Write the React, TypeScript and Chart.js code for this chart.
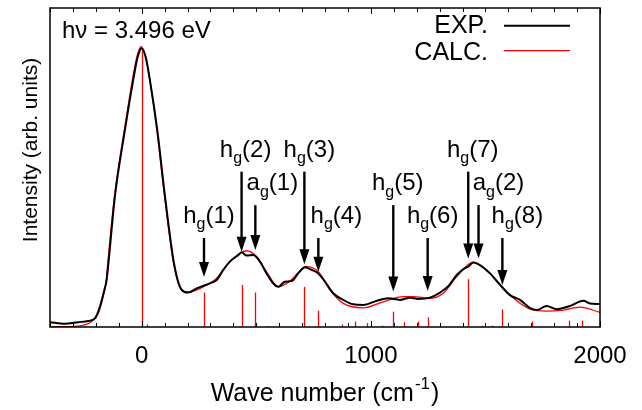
import { useEffect, useRef } from 'react';
import { Chart, registerables } from 'chart.js';

Chart.register(...registerables);

// Measured spectrum (black)
const expWave = [-400, -335, -277, -233, -204, -182, -163, -153, -145, -117, -73, -37, -18, 0, 18, 36, 68, 102, 141, 175, 203, 240, 269, 298, 327, 356, 385, 422, 436, 458, 487, 516, 545, 574, 596, 625, 655, 683, 713, 742, 771, 800, 836, 880, 923, 967, 1025, 1076, 1127, 1171, 1207, 1258, 1302, 1338, 1375, 1403, 1425, 1447, 1476, 1520, 1564, 1607, 1651, 1695, 1724, 1767, 1811, 1869, 1927, 1956, 2000];
const expIntensity = [1.5, 1.0, 1.5, 1.9, 2.7, 6.4, 11.6, 14.7, 20.0, 40.8, 61.8, 77.4, 84.5, 87.4, 84.5, 77.4, 61.8, 40.8, 20.0, 11.6, 10.8, 12.1, 12.9, 13.7, 14.7, 17.9, 20.5, 22.6, 23.4, 22.4, 22.6, 20.5, 16.8, 13.7, 12.6, 14.2, 14.4, 16.8, 18.7, 17.9, 16.8, 14.2, 10.6, 8.5, 7.1, 6.9, 8.2, 9.0, 8.5, 9.2, 8.8, 9.2, 10.8, 12.8, 16.3, 18.1, 18.9, 20.2, 19.4, 16.8, 13.2, 10.0, 8.5, 5.9, 5.3, 6.6, 5.6, 6.6, 8.2, 7.4, 7.2];

// Simulated spectrum (red)
const calcWave = [-400, -277, -218, -189, -168, -156, -148, -119, -75, -39, -20, -3, 16, 34, 66, 100, 139, 173, 203, 269, 327, 385, 420, 458, 502, 545, 596, 647, 720, 771, 822, 880, 967, 1054, 1142, 1185, 1258, 1316, 1375, 1447, 1520, 1607, 1695, 1767, 1840, 1913, 2000];
const calcIntensity = [0.1, 0.3, 1.7, 4.3, 9.5, 13.7, 20.0, 40.8, 62.0, 78.0, 85.0, 87.9, 85.0, 78.0, 62.0, 41.0, 20.0, 11.8, 10.9, 12.6, 15.3, 20.5, 22.6, 23.9, 22.0, 17.3, 12.6, 14.4, 18.9, 17.3, 11.6, 7.4, 6.0, 7.9, 9.5, 9.5, 9.0, 10.6, 15.8, 20.3, 16.8, 10.0, 5.6, 5.0, 5.3, 6.2, 4.6];

// Calculated line intensities (stick spectrum)
const stickWave = [0, 23, 272, 436, 494, 545, 710, 771, 873, 931, 982, 1048, 1098, 1146, 1204, 1248, 1425, 1485, 1530, 1574, 1702, 1866, 1923];
const stickIntensity = [87.0, 0.8, 10.8, 13.2, 10.8, 0.3, 12.6, 5.1, 0.8, 1.7, 1.2, 0.4, 4.8, 1.5, 1.7, 3.0, 15.0, 0.4, 0.4, 5.5, 1.7, 2.0, 2.0];

const xTickLabels = [0, 1000, 2000];

// Vibrational mode assignments
const modeSymbol = ['h', 'h', 'a', 'h', 'h', 'h', 'h', 'h', 'a', 'h'];
const modeNumber = [1, 2, 1, 3, 4, 5, 6, 7, 2, 8];
const modeWave = [272, 436, 496, 710, 771, 1098, 1248, 1425, 1470, 1574];
const modePointsAt = [15.7, 23.6, 24.1, 19.7, 17.3, 11.1, 11.3, 21.5, 21.5, 13.2];
const modeTier = [0, 2, 1, 2, 0, 1, 0, 2, 1, 0];

// Layout constants for annotations
const ARROW_TIER_LEVEL = [27.9, 38.2, 48.7];
const LABEL_SHIFT = [5, 4, 17, 5, 18, 4.5, 5, 4.5, 20, 15];

const FONT = '"Liberation Sans", Arial, Helvetica, sans-serif';

const decor = {
  id: 'decor',
  beforeDatasetsDraw(chart: any) {
    const { ctx, chartArea: a, scales } = chart;
    const xs = scales.x;
    const ys = scales.y;
    ctx.save();
    ctx.beginPath();
    ctx.rect(a.left, a.top, a.right - a.left, a.bottom - a.top);
    ctx.clip();
    ctx.strokeStyle = '#ff0000';
    ctx.lineWidth = 1.3;
    stickWave.forEach((w, i) => {
      const x = Math.round(xs.getPixelForValue(w)) + 0.5;
      ctx.beginPath();
      ctx.moveTo(x, ys.getPixelForValue(0));
      ctx.lineTo(x, ys.getPixelForValue(stickIntensity[i]));
      ctx.stroke();
    });
    ctx.restore();
  },
  afterDatasetsDraw(chart: any) {
    const { ctx, chartArea: a, scales } = chart;
    const xs = scales.x;
    const ys = scales.y;
    ctx.save();

    // frame
    ctx.strokeStyle = '#000';
    ctx.lineWidth = 1.5;
    ctx.strokeRect(a.left, a.top, a.right - a.left, a.bottom - a.top);

    // inward tick marks, top and bottom
    ctx.lineWidth = 1;
    for (let v = -400; v <= 2000; v += 100) {
      const x = Math.round(xs.getPixelForValue(v)) + 0.5;
      const len = v % 1000 === 0 ? 6 : 4;
      ctx.beginPath();
      ctx.moveTo(x, a.bottom);
      ctx.lineTo(x, a.bottom - len);
      ctx.moveTo(x, a.top);
      ctx.lineTo(x, a.top + len);
      ctx.stroke();
    }

    // arrows and mode labels
    ctx.fillStyle = '#000';
    ctx.strokeStyle = '#000';
    const headLen = 15;
    const headW = 10;
    modeWave.forEach((w, i) => {
      const x = xs.getPixelForValue(w);
      const tip = ys.getPixelForValue(modePointsAt[i]);
      const top = ys.getPixelForValue(ARROW_TIER_LEVEL[modeTier[i]]);
      ctx.lineWidth = 2.4;
      ctx.beginPath();
      ctx.moveTo(x, top);
      ctx.lineTo(x, tip - headLen + 2);
      ctx.stroke();
      ctx.beginPath();
      ctx.moveTo(x, tip);
      ctx.lineTo(x - headW / 2, tip - headLen);
      ctx.lineTo(x + headW / 2, tip - headLen);
      ctx.closePath();
      ctx.fill();

      const main = `24px ${FONT}`;
      const sub = `16px ${FONT}`;
      const tail = `(${modeNumber[i]})`;
      ctx.font = main;
      const w1 = ctx.measureText(modeSymbol[i]).width;
      const w3 = ctx.measureText(tail).width;
      ctx.font = sub;
      const w2 = ctx.measureText('g').width;
      const total = w1 + w2 + w3;
      const lx = x + LABEL_SHIFT[i] - total / 2;
      const by = top - 15;
      ctx.textBaseline = 'alphabetic';
      ctx.textAlign = 'left';
      ctx.font = main;
      ctx.fillText(modeSymbol[i], lx, by);
      ctx.font = sub;
      ctx.fillText('g', lx + w1, by + 6.5);
      ctx.font = main;
      ctx.fillText(tail, lx + w1 + w2, by);
    });

    // photon energy
    ctx.font = `24px ${FONT}`;
    ctx.textAlign = 'left';
    ctx.fillText('h\u03bd = 3.496 eV', a.left + 12, a.top + 29.5);

    // legend
    ctx.font = `25px ${FONT}`;
    ctx.textAlign = 'right';
    ctx.fillText('EXP.', a.right - 112, a.top + 25);
    ctx.fillText('CALC.', a.right - 112, a.top + 52);
    ctx.lineWidth = 2;
    ctx.strokeStyle = '#000';
    ctx.beginPath();
    ctx.moveTo(a.right - 96, a.top + 17.7);
    ctx.lineTo(a.right - 30, a.top + 17.7);
    ctx.stroke();
    ctx.lineWidth = 1.2;
    ctx.strokeStyle = '#ff0000';
    ctx.beginPath();
    ctx.moveTo(a.right - 96, a.top + 42.7);
    ctx.lineTo(a.right - 30, a.top + 42.7);
    ctx.stroke();

    // x axis title with superscript
    ctx.fillStyle = '#000';
    ctx.textAlign = 'left';
    const t1 = 'Wave number (cm';
    const t2 = '-1';
    const t3 = ')';
    ctx.font = `25px ${FONT}`;
    const a1 = ctx.measureText(t1).width;
    const a3 = ctx.measureText(t3).width;
    ctx.font = `17px ${FONT}`;
    const a2 = ctx.measureText(t2).width;
    const cx = (a.left + a.right) / 2;
    const sx = cx - (a1 + a2 + a3 + 2) / 2;
    const base = a.bottom + 74;
    ctx.font = `25px ${FONT}`;
    ctx.fillText(t1, sx, base);
    ctx.font = `17px ${FONT}`;
    ctx.fillText(t2, sx + a1 + 1, base - 12);
    ctx.font = `25px ${FONT}`;
    ctx.fillText(t3, sx + a1 + a2 + 2, base);

    // y axis title
    ctx.save();
    ctx.translate(a.left - 13, 150);
    ctx.rotate(-Math.PI / 2);
    ctx.textAlign = 'center';
    ctx.font = `21px ${FONT}`;
    ctx.fillText('Intensity (arb. units)', 0, 0);
    ctx.restore();

    ctx.restore();
  },
};

export default function App() {
  const canvasRef = useRef<HTMLCanvasElement | null>(null);

  useEffect(() => {
    document.body.style.margin = '0';
    const canvas = canvasRef.current;
    if (!canvas) return;
    const chart = new Chart(canvas, {
      type: 'line',
      data: {
        datasets: [
          {
            label: 'EXP.',
            data: expWave.map((x, i) => ({ x, y: expIntensity[i] })),
            borderColor: '#000000',
            borderWidth: 2,
            pointRadius: 0,
            cubicInterpolationMode: 'monotone',
          },
          {
            label: 'CALC.',
            data: calcWave.map((x, i) => ({ x, y: calcIntensity[i] })),
            borderColor: '#ff0000',
            borderWidth: 1.3,
            pointRadius: 0,
            cubicInterpolationMode: 'monotone',
          },
        ],
      },
      options: {
        responsive: false,
        animation: false,
        layout: { padding: { top: 8, right: 42, left: 0, bottom: 0 } },
        plugins: { legend: { display: false }, tooltip: { enabled: false } },
        scales: {
          x: {
            type: 'linear',
            min: -400,
            max: 2000,
            grid: { display: false, drawTicks: false },
            border: { display: false },
            afterBuildTicks: (s: any) => {
              s.ticks = xTickLabels.map((v) => ({ value: v }));
            },
            afterFit: (s: any) => {
              s.height = 83;
            },
            ticks: {
              color: '#000',
              font: { family: FONT, size: 24 },
              padding: 15,
              maxRotation: 0,
              autoSkip: false,
              callback: (v: any) => String(v),
            },
          },
          y: {
            min: 0,
            max: 100,
            grid: { display: false, drawTicks: false },
            border: { display: false },
            ticks: { display: false },
            afterFit: (s: any) => {
              s.width = 50;
            },
          },
        },
      },
      plugins: [decor],
    } as any);
    return () => chart.destroy();
  }, []);

  return (
    <canvas
      ref={canvasRef}
      width={642}
      height={410}
      style={{ display: 'block', width: 642, height: 410 }}
    />
  );
}
